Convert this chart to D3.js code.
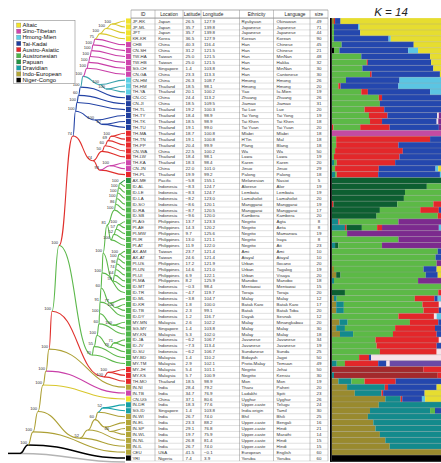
<!DOCTYPE html>
<html><head><meta charset="utf-8">
<script src="https://cdn.jsdelivr.net/npm/d3@7"></script>
<style>
body{margin:0;background:#fff}
svg{display:block;font-family:"Liberation Sans",Arial,sans-serif}
</style>
</head><body>
<svg id="fig" width="441" height="463"></svg>
<script>
// ---------- population table ----------
const popIds = ["JP-RK","JP-ML","JPT","KR-KR","CHB","CN-SH","TW-HA","TW-HB","SG-CH","CN-GA","CN-HM","TH-HM","TH-YA","CN-CC","CN-JI","TH-TL","TH-TY","TH-TK","TH-TU","TH-MA","TH-TN","TH-PP","CN-WA","TH-LW","TH-KA","CN-JN","TH-PL","AX-ME","ID-AL","ID-LE","ID-LA","ID-SO","ID-RA","ID-SB","PI-AG","PI-AE","PI-MW","PI-IR","PI-AT","AX-AM","AX-AT","PI-US","PI-UN","PI-UI","PI-MA","ID-MT","ID-TR","ID-ML","ID-KR","ID-TB","ID-DY","MY-MN","SG-MY","MY-KN","ID-JA","ID-JV","ID-SU","MY-BD","MY-TM","MY-JH","MY-KS","TH-MO","IN-NI","IN-TB","CN-UG","IN-DR","SG-ID","IN-WI","IN-EL","IN-SP","IN-WL","IN-NL","IN-IL","CEU","YRI"];

const popLocation = ["Japan","Japan","Japan","Korea","China","China","Taiwan","Taiwan","Singapore","China","China","Thailand","Thailand","China","China","Thailand","Thailand","Thailand","Thailand","Thailand","Thailand","Thailand","China","Thailand","Thailand","China","Thailand","Pacific","Indonesia","Indonesia","Indonesia","Indonesia","Indonesia","Indonesia","Philippines","Philippines","Philippines","Philippines","Philippines","Taiwan","Taiwan","Philippines","Philippines","Philippines","Philippines","Indonesia","Indonesia","Indonesia","Indonesia","Indonesia","Indonesia","Malaysia","Singapore","Malaysia","Indonesia","Indonesia","Indonesia","Malaysia","Malaysia","Malaysia","Malaysia","Thailand","India","India","China","India","Singapore","India","India","India","India","India","India","USA","Nigeria"];

const popLatitude = [26.5,35.7,35.7,36.5,40.3,31.2,25.0,25.0,1.4,23.3,26.3,18.5,20.1,24.4,18.5,19.2,18.4,18.5,19.1,18.7,19.1,20.4,22.5,18.4,18.3,22.0,19.9,-5.8,-8.3,-8.3,-8.2,-8.6,-8.7,-9.6,13.7,14.3,9.7,13.0,11.9,23.7,24.6,17.2,14.6,6.9,8.2,-0.3,-4.7,-3.8,1.8,2.3,1.2,2.6,1.4,5.3,-6.2,-7.3,-6.2,1.4,2.9,5.4,5.7,18.5,28.4,34.7,37.1,18.3,1.4,26.7,23.3,29.1,19.7,26.8,26.7,41.5,7.4];

const popLongitude = [127.9,139.8,139.8,127.9,116.4,121.5,121.5,121.5,103.8,113.3,108.7,98.1,100.2,113.2,109.5,100.3,98.9,98.9,99.0,100.8,100.8,99.9,100.2,98.1,98.4,101.0,99.2,155.1,124.7,124.7,123.0,120.1,120.5,120.0,123.3,120.2,125.6,121.1,122.0,121.4,121.4,121.9,121.0,122.1,125.9,98.4,119.7,104.7,100.0,99.1,116.7,102.2,103.8,102.0,106.7,113.4,106.7,110.2,102.1,101.1,100.9,98.9,79.2,76.9,80.6,77.6,103.8,74.0,88.2,76.8,75.9,81.4,74.0,-0.1,3.9];

const popEthnicity = ["Ryukyuan","Japanese","Japanese","Korean","Han","Han","Han","Han","Han","Han","Hmong","Hmong","Yao","Zhuang","Jiamao","Tai Lue","Tai Yong","Tai Khen","Tai Yuan","Mlabri","H'Tin","Plang","Wa","Lawa","Karen","Jinuo","Palong","Melanesian","Alorese","Lembata","Lamaholot","Manggarai","Manggarai","Kambera","Negrito","Negrito","Negrito","Negrito","Negrito","Ami","Atayal","Urban","Urban","Urban","Manobo","Mentawai","Toraja","Malay","Batak Karo","Batak","Dayak","Malay","Malay","Malay","Javanese","Javanese","Sundanese","Bidayuh","Proto-Malay","Negrito","Negrito","Mon","Tharu","Ladakhi","Uyghur","Upper-caste","India origin","Bhil","Upper-caste","Upper-caste","Upper-caste","Upper-caste","Upper-caste","European","Yoruba"];

const popLanguage = ["Okinawan","Japanese","Japanese","Korean","Chinese","Chinese","MinNan","Hakka","MinNan","Cantonese","Hmong","Hmong","Iu-Mien","Zhuang","Jiamao","Lue","Tai Yong","Tai Khen","Tai Yuan","Mlabri","Mal","Blang","Wa","Lawa","Karen","Jinuo","Palong","Nasioi","Alor","Lembata","Lamaholot","Manggarai","Manggarai","Kambera","Agta","Aeta","Mamanwa","Iraya","Ati","Ami","Atayal","Ilocano","Tagalog","Visaya","Manobo","Mentawai","Toraja","Malay","Batak Karo","Batak Toba","Sesnak","Minangkabau","Malay","Malay","Javanese","Javanese","Sunda","Jagoi","Temuan","Jehai","Kensiu","Mon","Paheri","Spiti","Uyghur","Telugu","Tamil","Bhili","Bengali","Hindi","Marathi","Hindi","Hindi","English","Yoruba"];

const popSize = [49,71,44,90,45,21,48,32,30,30,26,20,19,26,31,20,19,18,20,18,18,18,50,19,20,29,18,5,19,19,20,19,17,20,8,8,19,8,23,10,10,20,19,20,18,15,20,12,17,20,12,20,30,18,34,19,25,50,49,50,30,19,20,23,26,24,30,25,16,21,14,15,15,60,60];

// linguistic family of each population
const popFamily = ["al","al","al","al","st","st","st","st","st","st","hm","hm","hm","tk","tk","tk","tk","tk","tk","aa","aa","aa","aa","aa","st","st","aa","pa","an","an","an","an","an","an","an","an","an","an","an","an","an","an","an","an","an","an","an","an","an","an","an","an","an","an","an","an","an","an","an","aa","aa","aa","ie","st","al","dr","dr","ie","ie","ie","ie","ie","ie","ie","nc"];

// ---------- language families ----------
const familyKeys  = ["al","st","hm","tk","aa","an","pa","dr","ie","nc","og"];
const familyNames = ["Altaic","Sino-Tibetan","Hmong-Mien","Tai-Kadai","Austro-Asiatic","Austronesian","Papuan","Dravidian","Indo-European","Niger-Congo",""];
const familyFill  = ["#f2e32c","#cf45ae","#5ccfe6","#1f3e9e","#e8282b","#4cb649","#249443","#17a0a6","#b3a637","#000000","#b4b4b4"];
const familyLine  = ["#d8c72c","#c93fa8","#3aa3ad","#2343a5","#e0302c","#5cb84b","#2a9a44","#18a3ab","#ada035","#000000","#b4b4b4"];

// ---------- maximum-likelihood tree (Newick, bootstrap support on internal nodes) ----------
const cladeNorth = "(((((((((JP-RK,JP-ML)100:6,JPT)100:6,KR-KR)100:5,CHB)75:2,CN-SH)100:1.5,TW-HA)100:1.5,TW-HB)100:1.5,SG-CH)100:1.5,CN-GA)100:4";
const cladeHmongMien = "(CN-HM,(TH-HM,TH-YA)100:6)100:17";
const cladeTaiKadai = "(TH-TY,(TH-TK,TH-TU)62:7)100:19.5";
const cladeAustroAsiatic = "(((((TH-MA,TH-TN)100:3,TH-PP)69:3,CN-WA)60:3,TH-LW)50:9,((TH-KA,CN-JN)100:10,TH-PL)93:7)74:20";
const cladeNegrito = "((((PI-AG,PI-AE)100:2,PI-MW)57:2,PI-IR)52:3,PI-AT)100:4";
const cladeTaiwanPhil = "((((((AX-AM,AX-AT)100:1.5,PI-US)100:1,PI-UN)96:1,PI-UI)74:1,PI-MA)64:1.5,ID-MT)59:10";
const cladeAustronesian = "((((((((((((((((AX-ME,ID-AL)100:1,ID-LE)100:1,ID-LA)100:1,ID-SO)100:1,ID-RA)86:1,ID-SB)100:7.5,"
  + cladeNegrito + ")81:4," + cladeTaiwanPhil + ")100:1,ID-TR)100:1,(ID-ML,(ID-KR,ID-TB)100:5)77:9)60:1,ID-DY)91:0.5,"
  + "(MY-MN,SG-MY)100:13.5)100:0.5,MY-KN)60:2,((ID-JA,ID-JV)71:4,ID-SU)76:13)100:3,MY-BD)55:2,MY-TM)70:33";
const cladeMalayNegrito = "((MY-JH,MY-KS)100:4,TH-MO)100:52";
const cladeIndian = "(((((IN-DR,SG-ID)52:5,IN-WI):3,(IN-EL,(IN-SP,IN-WL)60:5):10)60:7,IN-NL):8,IN-IL)52:42";
const cladeMainland = "(((((" + cladeNorth + "," + cladeHmongMien + ")100:2.5,CN-CC)100:2,CN-JI)60:1.5,TH-TL)100:1.5," + cladeTaiKadai + ")100:2.5";
const newick = "((((((((((" + cladeMainland + "," + cladeAustroAsiatic + ")74:14," + cladeAustronesian + ")100:7,"
  + cladeMalayNegrito + ")100:3,IN-NI)100:3,IN-TB)100#ie:3,CN-UG)100#ie:5," + cladeIndian + ")100:5,CEU)100:5,YRI)100:8,OUT);";
const tipDepth = 105;

// ---------- STRUCTURE K = 14 ancestry (percent, left to right) ----------
const clusterKeys   = ["ye","bl","cy","gn","rd","mg","dg","pu","tl","ol","wh","dr","vi","bk"];
const clusterColors = ["#e6dd30","#2447ae","#5bc5e3","#5cb946","#e3272a","#c34ba2","#0d5f31","#7c2a8e","#138a8c","#998a2e","#f7e3ea","#a3292c","#6b4aa6","#000000"];
const popAncestry = [
 "ol2 rd1 bl5 ye92","gn2 bl22 cy1.5 ye74.5","gn2 bl24 ye74","gn2 bl50 cy2 ye46","gn9 bl66 ye25",
 "bk2 gn5 bl63 cy9 ye21","gn27 bl63 ye10","gn32 rd1 bl58 ye9","gn28 bl65 ye7","gn35 rd1.5 bl62.5 ye1",
 "gn13 bl49 cy38","gn6 rd2 bl53 cy39","gn27 rd6 bl57 cy10","gn43 rd3 bl54","gn44 bl56",
 "gn30 rd18 bl52","gn34 rd17 bl45.5 wh1.5 pu2","gn35 rd11 bl50 wh1.5 pu2.5","rd1.5 gn24.5 rd27 bl45 pu2","mg100",
 "gn4 rd86 bl10","gn4 rd57 bl39","gn3 rd62 bl35","gn2 rd60 bl38","tl2 gn2.5 rd53.5 bl42",
 "gn3 rd40 bl52 cy2.5 ye2.5","tl3 gn1.5 rd38 bl56.5 cy1","dg100","dg87 gn13","dg67 gn33",
 "dg66 gn34","rd1.5 dg58.5 gn33 rd7","dg44 gn37 rd17 bl2","dg41 gn56 rd3","tl6 rd1 gn54 pu39",
 "tl12 rd1.5 dg14 gn14 rd4.5 pu52 cy2","gn14 pu86","gn61 pu39","tl3 dg3 gn40 pu54","gn97 bl3",
 "gn95 bl5","gn96 pu4","ol2 gn82 bl12 ye4","ol4 dg4 gn78 bl11 ye3","tl2 gn77 pu21",
 "gn100","dg12 gn85.5 rd2.5","ol2 tl2.5 gn71.5 rd18 bl3 cy3","ol4 tl7 gn72 rd15 wh2","ol4 tl7 gn73 rd14 bl2",
 "gn61 rd32.5 wh2.5 cy4","ol7 tl7.5 gn57 rd26 bl2.5","ol4 tl8 gn46 rd36.5 bl5.5","ol7.5 tl12 gn36.5 rd40 bl4","gn40 rd58 wh2",
 "gn41 rd55 bl4","gn44 rd52 wh4","gn25 rd9 bl2 wh64","tl4.5 gn7.5 rd30.5 bl7.5 wh3 vi47","dr84 rd16",
 "tl2 dr95 rd3","ol6 tl12 gn12 rd28.5 bl41.5","ol14 tl34.5 rd3 bl44.5 ye4","ol21 tl24.5 rd1.5 bl38 ye15","ol49 tl14 rd1.5 bl18 cy3 ye14.5",
 "ol43 tl57","ol35 tl55 gn4.5 bl5.5","ol33 tl67","ol38 tl62","ol40 tl60",
 "ol44 tl56","ol49 tl51","ol53 tl47","ol100","bk100"];

// ---------- layout ----------
const svg = d3.select("#fig");
const rowTop = 18.1, rowH = 5.905;
const tableBottom = rowTop + popIds.length * rowH;
const yRow = d3.scaleBand().domain(popIds).range([rowTop, tableBottom]);
const yMid = id => yRow(id) + yRow.bandwidth() / 2;
const xTree = d3.scaleLinear().domain([0, tipDepth]).range([20, 125]);
const famFill = new Map(familyKeys.map((k, i) => [k, familyFill[i]]));
const famLine = new Map(familyKeys.map((k, i) => [k, familyLine[i]]));
const clusterColor = new Map(clusterKeys.map((k, i) => [k, clusterColors[i]]));

// ---------- Newick parser ----------
function parseNewick(s) {
  let i = 0;
  function read() {
    const n = {children: []};
    if (s[i] === "(") {
      i++;
      n.children.push(read());
      while (s[i] === ",") { i++; n.children.push(read()); }
      i++;
    }
    let lab = "";
    while (i < s.length && !",():;".includes(s[i])) lab += s[i++];
    let len = 0;
    if (s[i] === ":") {
      i++;
      let t = "";
      while (i < s.length && !",();".includes(s[i])) t += s[i++];
      len = +t;
    }
    if (n.children.length) { const [b, g] = lab.split("#"); n.support = b; n.family = g; }
    else n.name = lab;
    n.length = len;
    return n;
  }
  return read();
}

const root = d3.hierarchy(parseNewick(newick), d => d.children.length ? d.children : null);
root.eachBefore(n => { n.dist = n.parent ? n.parent.dist + n.data.length : 0; });
root.eachAfter(n => {
  if (!n.children) {
    n.px = xTree(tipDepth);
    if (n.data.name === "OUT") { n.py = tableBottom + 0.9; n.fam = "og"; }
    else { n.py = yMid(n.data.name); n.fam = popFamily[popIds.indexOf(n.data.name)]; }
  } else {
    n.px = xTree(n.dist);
    n.py = d3.mean(n.children, c => c.py);
    n.fam = n.data.family || n.children[n.children.length - 1].fam;
  }
});

// ---------- tree ----------
const gTree = svg.append("g");
const link = d3.linkHorizontal().x(d => d.px).y(d => d.py);
gTree.append("line")
  .attr("x1", 8).attr("x2", root.px).attr("y1", root.py).attr("y2", root.py)
  .attr("stroke", "#000").attr("stroke-width", 1.5);
gTree.selectAll("path.branch")
  .data(root.links().sort((a, b) => (a.target.fam === "og") - (b.target.fam === "og")).reverse())
  .join("path")
  .attr("class", "branch")
  .attr("d", link)
  .attr("fill", "none")
  .attr("stroke", d => famLine.get(d.target.fam))
  .attr("stroke-width", d => d.target.fam === "nc" || d.target.fam === "og" ? 1.5 : 1.1);

gTree.selectAll("text.support")
  .data(root.descendants().filter(d => d.children && d.data.support))
  .join("text")
  .attr("class", "support")
  .attr("x", d => d.px - 1)
  .attr("y", d => d.py - 1.3)
  .attr("text-anchor", "end")
  .attr("font-size", 4.1)
  .attr("fill", "#333")
  .text(d => d.data.support);

// family colour chips at the tips
svg.append("g").selectAll("rect")
  .data(popIds)
  .join("rect")
  .attr("x", 126).attr("width", 5)
  .attr("y", d => yRow(d) + 0.35).attr("height", yRow.bandwidth() - 0.7)
  .attr("fill", (d, i) => famFill.get(popFamily[i]));

// ---------- legend ----------
const gLeg = svg.append("g");
gLeg.append("rect").attr("x", 13.5).attr("y", 20.5).attr("width", 61.5).attr("height", 63)
  .attr("fill", "#fff").attr("stroke", "#8a8a8a").attr("stroke-width", 0.6);
const legItems = familyKeys.slice(0, 10);
const legY = d3.scalePoint().domain(legItems).range([23, 77.9]);
gLeg.selectAll("rect.key").data(legItems).join("rect").attr("class", "key")
  .attr("x", 16.5).attr("y", d => legY(d)).attr("width", 4.4).attr("height", 4.4)
  .attr("fill", d => famFill.get(d)).attr("stroke", "#555").attr("stroke-width", 0.2);
gLeg.selectAll("text").data(legItems).join("text")
  .attr("x", 22.6).attr("y", d => legY(d) + 4.2)
  .attr("font-size", 5.9).attr("fill", "#111")
  .text(d => familyNames[familyKeys.indexOf(d)]);

// ---------- table ----------
const gTab = svg.append("g");
const colEdges = [131, 155, 183, 201, 239.5, 273.5, 310, 328];
const headerTop = 10;
const headers = ["ID", "Location", "Latitude", "Longitude", "Ethnicity", "Language", "size"];
const headerX = [143, 169, 192, 213, 256.5, 295, 319];
const fmt1 = d3.format(".1f");
const columns = [
  {x: 132.4, v: i => popIds[i]},
  {x: 158.2, v: i => popLocation[i]},
  {x: 185.6, v: i => fmt1(popLatitude[i])},
  {x: 204, v: i => fmt1(popLongitude[i])},
  {x: 241.6, v: i => popEthnicity[i]},
  {x: 276.6, v: i => popLanguage[i]},
  {x: 319, v: i => popSize[i], anchor: "middle"}
];
gTab.append("rect").attr("x", colEdges[0]).attr("y", headerTop)
  .attr("width", colEdges[7] - colEdges[0]).attr("height", rowTop - headerTop).attr("fill", "#fff");
gTab.selectAll("line.row")
  .data(d3.range(popIds.length + 1))
  .join("line").attr("class", "row")
  .attr("x1", colEdges[0]).attr("x2", colEdges[7])
  .attr("y1", i => rowTop + i * rowH).attr("y2", i => rowTop + i * rowH)
  .attr("stroke", "#b9b9b9").attr("stroke-width", 0.45);
gTab.append("line").attr("x1", colEdges[0]).attr("x2", colEdges[7])
  .attr("y1", headerTop).attr("y2", headerTop).attr("stroke", "#777").attr("stroke-width", 0.6);
gTab.append("line").attr("x1", colEdges[0]).attr("x2", colEdges[7])
  .attr("y1", rowTop).attr("y2", rowTop).attr("stroke", "#777").attr("stroke-width", 0.6);
gTab.selectAll("line.col")
  .data(colEdges)
  .join("line").attr("class", "col")
  .attr("x1", d => d).attr("x2", d => d)
  .attr("y1", headerTop).attr("y2", tableBottom)
  .attr("stroke", "#8f8f8f").attr("stroke-width", 0.5);
gTab.selectAll("text.head")
  .data(headers)
  .join("text").attr("class", "head")
  .attr("x", (d, i) => headerX[i]).attr("y", 15.9)
  .attr("text-anchor", "middle").attr("font-size", 4.7).attr("fill", "#222")
  .text(d => d);
columns.forEach(col => {
  gTab.append("g").selectAll("text")
    .data(popIds)
    .join("text")
    .attr("x", col.x)
    .attr("y", d => yMid(d) + 1.55)
    .attr("text-anchor", col.anchor || "start")
    .attr("font-size", 4.4).attr("fill", "#333")
    .text((d, i) => col.v(i));
});

// ---------- STRUCTURE bar plot ----------
const gBar = svg.append("g");
const xBar = d3.scaleLinear().domain([0, 100]).range([331.8, 441]);
popIds.forEach((id, i) => {
  const parts = popAncestry[i].split(" ").map(s => ({k: s.slice(0, 2), v: +s.slice(2)}));
  const total = d3.sum(parts, p => p.v);
  let acc = 0;
  parts.forEach(p => {
    const x0 = acc / total * 100; acc += p.v;
    const x1 = acc / total * 100;
    gBar.append("rect")
      .attr("x", xBar(x0)).attr("width", xBar(x1) - xBar(x0) + 0.05)
      .attr("y", yRow(id)).attr("height", yRow.bandwidth())
      .attr("fill", clusterColor.get(p.k));
  });
});
gBar.selectAll("line.sep")
  .data(d3.range(1, popIds.length))
  .join("line").attr("class", "sep")
  .attr("x1", xBar(0)).attr("x2", xBar(100))
  .attr("y1", i => rowTop + i * rowH).attr("y2", i => rowTop + i * rowH)
  .attr("stroke", "#9a9a9a").attr("stroke-width", 0.4).attr("stroke-opacity", 0.8);
gBar.append("line")
  .attr("x1", 330.9).attr("x2", 330.9).attr("y1", rowTop).attr("y2", tableBottom + 0.5)
  .attr("stroke", "#000").attr("stroke-width", 1.8);
gBar.append("line")
  .attr("x1", 330).attr("x2", 441).attr("y1", tableBottom + 0.4).attr("y2", tableBottom + 0.4)
  .attr("stroke", "#000").attr("stroke-width", 0.9);
svg.append("text")
  .attr("x", 391).attr("y", 16.3)
  .attr("text-anchor", "middle").attr("font-size", 11.5).attr("font-style", "italic").attr("fill", "#222")
  .text("K = 14");
</script>
</body></html>
